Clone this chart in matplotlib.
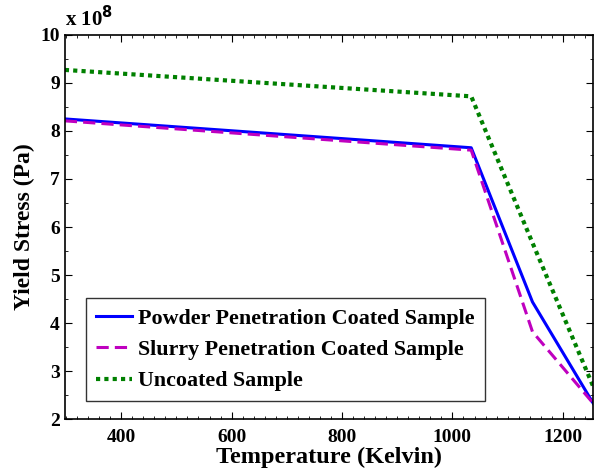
import matplotlib.pyplot as plt
import numpy as np

# temperatures (K) and yield stress (x1e8 Pa)
temp = [298, 1034, 1145, 1255]
powder = [8.25, 7.65, 4.44, 2.33]
slurry = [8.21, 7.60, 3.82, 2.33]
uncoated = [9.27, 8.72, 5.67, 2.68]
labels = ['Powder Penetration Coated Sample',
          'Slurry Penetration Coated Sample',
          'Uncoated Sample']

plt.rcParams['font.family'] = ['Liberation Serif', 'DejaVu Serif']
plt.rcParams['font.weight'] = 'bold'

fig = plt.figure(figsize=(5.95, 4.71), dpi=100)
ax = fig.add_axes([0.109, 0.110, 0.888, 0.816])

ax.plot(temp, np.array(powder) * 1e8, '-', color='#0000ff', lw=2.2, label=labels[0])
ax.plot(temp, np.array(slurry) * 1e8, '--', color='#bf00bf', lw=2.2,
        dashes=(4, 2), label=labels[1])
ax.plot(temp, np.array(uncoated) * 1e8, ':', color='#008000', lw=3,
        dashes=(1, 1), label=labels[2])

ax.set_xlim(temp[0], temp[-1])
ax.set_ylim(2e8, 10e8)
ax.set_xticks([400, 600, 800, 1000, 1200])
ax.set_xticks(np.arange(300, 1260, 20), minor=True)
ax.set_yticks(np.arange(2, 11) * 1e8)
ax.set_yticklabels([str(v) for v in range(2, 11)])
ax.set_yticks(np.arange(2, 10.01, 0.5) * 1e8, minor=True)
ax.tick_params(which='both', direction='in', top=True, right=True, labelsize=14)
ax.tick_params(which='major', length=5, width=0.8)
ax.tick_params(which='minor', length=2.5, width=0.6)
ax.tick_params(axis='x', which='major', pad=7)
for t in ax.get_xticklabels() + ax.get_yticklabels():
    t.set_fontweight('bold')
for s in ax.spines.values():
    s.set_linewidth(1.2)

ax.set_xlabel('Temperature (Kelvin)', fontsize=17.5, fontweight='bold', labelpad=1)
ax.set_ylabel('Yield Stress (Pa)', fontsize=17, fontweight='bold', labelpad=4)
ax.text(0.0, 1.01, r'x 10$^{\mathbf{8}}$', transform=ax.transAxes, fontsize=15,
        fontweight='bold', ha='left', va='bottom')

leg = ax.legend(loc='lower left', bbox_to_anchor=(0.04, 0.047),
                prop={'weight': 'bold', 'size': 15.8}, fancybox=False,
                edgecolor='black', handlelength=1.65, borderaxespad=0,
                handletextpad=0.28, labelspacing=0.5, borderpad=0.45)
leg.get_frame().set_linewidth(1.0)

fig.savefig('out.png', dpi=100)
